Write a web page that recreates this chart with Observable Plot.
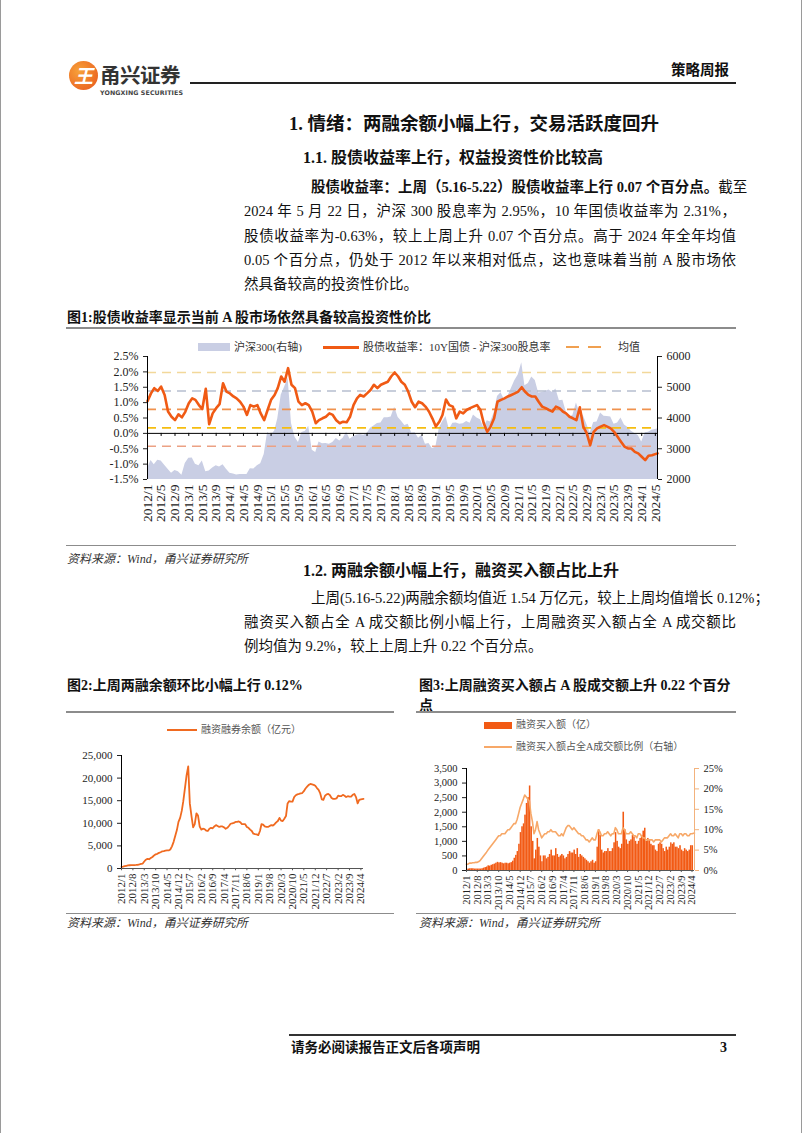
<!DOCTYPE html>
<html><head><meta charset="utf-8">
<script src="https://cdn.jsdelivr.net/npm/d3@7"></script>
<script src="https://cdn.jsdelivr.net/npm/@observablehq/plot@0.6"></script>
<style>
body{margin:0;background:#fff;}
#page{position:relative;width:802px;height:1133px;overflow:hidden;box-sizing:border-box;border-left:1px solid #9a9a9a;border-right:1px solid #9a9a9a;
 font-family:"Liberation Serif","Noto Sans CJK SC",serif;color:#111;}
.t{position:absolute;white-space:nowrap;line-height:20px;}
.j{position:absolute;white-space:nowrap;line-height:20px;text-align:justify;text-align-last:justify;font-size:14.5px;}
.rule{position:absolute;}
.leg{position:absolute;white-space:nowrap;line-height:14px;color:#333;}
.chart{position:absolute;}
</style>
</head><body>
<div id="page">
  <!-- header -->
  <div class="t" style="left:68px;top:61px;width:29px;height:29px;border-radius:50%;background:radial-gradient(circle at 35% 35%,#f7a23a,#e8541a);"></div>
  <div class="t" style="left:68px;top:65px;width:29px;text-align:center;font:bold italic 19px 'Noto Sans CJK SC';color:#fff;line-height:20px;">王</div>
  <div class="t" style="left:99px;top:62px;font:bold 20.5px 'Noto Sans CJK SC';color:#333;line-height:24px;letter-spacing:-0.5px;">甬兴证券</div>
  <div class="t" style="left:99px;top:89px;font:bold 6.3px 'DejaVu Sans';color:#444;line-height:8px;letter-spacing:0.1px;">YONGXING SECURITIES</div>
  <div class="rule" style="left:189px;top:82px;width:546px;height:2px;background:#222;"></div>
  <div class="t" style="left:670px;top:60px;font-weight:bold;font-size:14.5px;">策略周报</div>

  <!-- headings -->
  <div class="t" style="left:288px;top:113px;font-weight:bold;font-size:18.5px;line-height:22px;">1. 情绪：两融余额小幅上行，交易活跃度回升</div>
  <div class="t" style="left:302px;top:148px;font-weight:bold;font-size:16px;">1.1. 股债收益率上行，权益投资性价比较高</div>

  <div class="j" style="left:310px;top:177px;width:425px;"><b>股债收益率：上周（5.16-5.22）股债收益率上行 0.07 个百分点。</b>截至</div>
  <div class="j" style="left:243px;top:201px;width:492px;">2024 年 5 月 22 日，沪深 300 股息率为 2.95%，10 年国债收益率为 2.31%，</div>
  <div class="j" style="left:243px;top:226px;width:492px;">股债收益率为-0.63%，较上上周上升 0.07 个百分点。高于 2024 年全年均值</div>
  <div class="j" style="left:243px;top:250px;width:492px;">0.05 个百分点，仍处于 2012 年以来相对低点，这也意味着当前 A 股市场依</div>
  <div class="t" style="left:243px;top:274px;font-size:14.5px;">然具备较高的投资性价比。</div>

  <!-- figure 1 -->
  <div class="t" style="left:66px;top:308px;font-weight:bold;font-size:14px;">图1:股债收益率显示当前 A 股市场依然具备较高投资性价比</div>
  <div class="rule" style="left:65px;top:327px;width:670px;height:2px;background:#8c8c8c;"></div>
  <div class="leg" style="left:197px;top:343px;width:32px;height:8px;background:#c9cee4;"></div>
  <div class="leg" style="left:233px;top:340px;font-size:11px;">沪深300(右轴)</div>
  <div class="leg" style="left:322px;top:346px;width:36px;height:3px;background:#f05a14;"></div>
  <div class="leg" style="left:362px;top:340px;font-size:11px;">股债收益率：10Y国债 - 沪深300股息率</div>
  <div class="leg" style="left:565px;top:346px;width:38px;height:2px;background:repeating-linear-gradient(90deg,#f0a050 0 13px,transparent 13px 22px);"></div>
  <div class="leg" style="left:617px;top:340px;font-size:11px;">均值</div>
  <div class="chart" id="c1" style="left:60px;top:350px;"></div>
  <div class="rule" style="left:65px;top:545px;width:670px;height:1px;background:#8c8c8c;"></div>
  <div class="t" style="left:66px;top:549px;font-style:italic;font-size:12px;color:#333;">资料来源：Wind，甬兴证券研究所</div>

  <!-- section 1.2 -->
  <div class="t" style="left:302px;top:561px;font-weight:bold;font-size:16px;">1.2. 两融余额小幅上行，融资买入额占比上升</div>
  <div class="j" style="left:310px;top:588px;width:425px;">上周(5.16-5.22)两融余额均值近 1.54 万亿元，较上上周均值增长 0.12%；</div>
  <div class="j" style="left:243px;top:612px;width:492px;">融资买入额占全 A 成交额比例小幅上行，上周融资买入额占全 A 成交额比</div>
  <div class="t" style="left:243px;top:636px;font-size:14.5px;">例均值为 9.2%，较上上周上升 0.22 个百分点。</div>

  <!-- figure 2 -->
  <div class="t" style="left:66px;top:676px;font-weight:bold;font-size:14px;">图2:上周两融余额环比小幅上行 0.12%</div>
  <div class="rule" style="left:65px;top:711px;width:328px;height:2px;background:#8c8c8c;"></div>
  <div class="leg" style="left:166px;top:729px;width:30px;height:2px;background:#f06a20;"></div>
  <div class="leg" style="left:200px;top:723px;font-size:10px;color:#555;">融资融券余额（亿元）</div>
  <div class="chart" id="c2" style="left:60px;top:745px;"></div>
  <div class="rule" style="left:65px;top:913px;width:328px;height:1px;background:#8c8c8c;"></div>
  <div class="t" style="left:66px;top:913px;font-style:italic;font-size:12px;color:#333;">资料来源：Wind，甬兴证券研究所</div>

  <!-- figure 3 -->
  <div class="t" style="left:418px;top:676px;font-weight:bold;font-size:14px;">图3:上周融资买入额占 A 股成交额上升 0.22 个百分</div>
  <div class="t" style="left:418px;top:696px;font-weight:bold;font-size:14px;">点</div>
  <div class="rule" style="left:415px;top:711px;width:320px;height:2px;background:#8c8c8c;"></div>
  <div class="leg" style="left:483px;top:722px;width:28px;height:7px;background:#f25a14;"></div>
  <div class="leg" style="left:515px;top:718px;font-size:10px;color:#555;">融资买入额（亿）</div>
  <div class="leg" style="left:483px;top:746px;width:28px;height:2px;background:#f7a868;"></div>
  <div class="leg" style="left:515px;top:740px;font-size:10px;color:#555;">融资买入额占全A成交额比例（右轴）</div>
  <div class="chart" id="c3" style="left:410px;top:758px;"></div>
  <div class="rule" style="left:415px;top:913px;width:320px;height:1px;background:#8c8c8c;"></div>
  <div class="t" style="left:418px;top:913px;font-style:italic;font-size:12px;color:#333;">资料来源：Wind，甬兴证券研究所</div>

  <!-- footer -->
  <div class="rule" style="left:288px;top:1034px;width:447px;height:1.5px;background:#333;"></div>
  <div class="t" style="left:290px;top:1038px;font-weight:bold;font-size:13.5px;">请务必阅读报告正文后各项声明</div>
  <div class="t" style="left:719px;top:1038px;font-weight:bold;font-size:14px;">3</div>
</div>

<script>
// ---------------- DATA ----------------
// Figure 1: monthly, 2012/1 .. 2024/5
const spreadValues = [
 1.05,1.30,1.47,1.38,1.52,1.25,0.71,0.54,0.43,0.62,0.52,0.70,
 0.98,1.14,1.09,0.92,0.79,1.45,0.30,0.65,0.82,0.95,1.63,1.36,
 1.30,1.20,1.14,1.03,0.87,0.60,0.92,0.87,0.92,0.65,0.43,0.76,
 1.09,1.25,1.47,1.85,1.68,2.12,1.58,1.47,1.03,0.92,0.98,0.92,
 0.71,0.33,0.43,0.49,0.54,0.65,0.60,0.43,0.33,0.38,0.36,0.54,
 0.92,1.14,1.25,1.20,1.30,1.41,1.58,1.47,1.58,1.63,1.68,1.85,
 1.98,1.85,1.68,1.58,1.36,1.03,0.85,1.03,0.98,0.87,0.71,0.49,
 0.22,0.38,0.60,1.10,0.92,0.87,0.49,0.71,0.65,0.76,0.82,0.87,
 0.92,0.76,0.33,0.05,0.22,0.49,1.03,1.09,1.14,1.20,1.25,1.30,
 1.36,1.50,1.36,1.25,1.20,1.20,1.03,0.87,0.82,0.76,0.71,0.87,
 0.82,0.71,0.65,0.54,0.49,0.43,0.85,0.22,0.00,-0.38,0.05,0.16,
 0.22,0.27,0.22,0.16,0.05,-0.11,-0.27,-0.43,-0.49,-0.49,-0.60,-0.65,
 -0.76,-0.87,-0.73,-0.71,-0.65
];
const csi300Values = [
 2350,2620,2480,2630,2600,2460,2330,2200,2290,2250,2140,2520,
 2690,2700,2500,2450,2600,2250,2280,2370,2450,2410,2480,2330,
 2200,2180,2150,2160,2160,2165,2350,2340,2450,2510,2810,3530,
 3450,3570,3970,4750,5000,5300,3820,3370,3200,3530,3570,3730,
 2950,2880,3220,3160,3170,3150,3200,3330,3250,3340,3540,3310,
 3390,3450,3460,3440,3490,3670,3740,3820,3840,4010,4010,4030,
 4350,4020,3900,3760,3800,3510,3520,3340,3440,3150,3170,3010,
 3050,3670,3870,4050,3630,3830,3840,3800,3810,3890,3830,4100,
 4000,3940,3690,3910,3870,4160,4700,4820,4590,4700,4960,5210,
 5400,5800,5050,5120,5330,5220,4810,4830,4870,4910,4830,4940,
 4560,4580,4220,4020,4090,4490,4170,4080,3800,3510,3850,3870,
 4160,4060,4050,4030,3800,3840,4000,3770,3690,3570,3500,3430,
 3220,3520,3540,3600,3640
];
const meanLevels = [1.98, 1.38, 0.78, 0.18, -0.42];   // mean ± 1σ, ± 2σ
const leftTicks1 = [-1.5,-1.0,-0.5,0.0,0.5,1.0,1.5,2.0,2.5];
const rightTicks1 = [2000,3000,4000,5000,6000];
const xTicks1 = ["2012/1","2012/5","2012/9","2013/1","2013/5","2013/9","2014/1","2014/5","2014/9","2015/1","2015/5","2015/9",
 "2016/1","2016/5","2016/9","2017/1","2017/5","2017/9","2018/1","2018/5","2018/9","2019/1","2019/5","2019/9",
 "2020/1","2020/5","2020/9","2021/1","2021/5","2021/9","2022/1","2022/5","2022/9","2023/1","2023/5","2023/9","2024/1","2024/5"];

// Figure 2: margin balance (亿元), monthly 2012/1 .. 2024/5
const marginBalance = [
 380,420,520,600,680,720,730,740,760,790,830,900,
 1000,1100,1550,1950,2150,2050,2300,2550,2900,3150,3250,3450,
 3600,3800,3850,3950,4000,4000,4200,4900,5900,7200,8500,10300,
 11200,12800,14900,17800,20600,22600,14400,11600,9100,9800,12200,11700,
 9300,8600,8800,8700,8400,8300,8800,9000,8900,9300,9600,9400,
 9200,9300,9300,9100,8800,9000,9400,9900,10000,10100,10300,10300,
 10400,10200,9800,9800,9800,9200,9000,8600,8300,7700,7600,7560,
 7400,8300,9800,9700,9300,9200,9200,9400,9600,9500,9800,10200,
 10500,11200,10600,10500,11000,11600,14400,14900,14800,14800,15800,16200,
 16400,16500,16600,16700,17100,17700,18100,18500,18700,18600,18500,18300,
 17800,17400,16700,15300,15200,16100,16400,16500,16200,15600,15400,15400,
 15500,16100,16000,16000,16300,16100,15800,16000,15900,15900,16300,16500,
 15800,14400,15200,15300,15400
];
const leftTicks2 = [0,5000,10000,15000,20000,25000];
const xTicks23 = ["2012/1","2012/8","2013/3","2013/10","2014/5","2014/12","2015/7","2016/2","2016/9","2017/4","2017/11",
 "2018/6","2019/1","2019/8","2020/3","2020/10","2021/5","2021/12","2022/7","2023/2","2023/9","2024/4"];

// Figure 3: financing buy amount (亿) and share of A-share turnover (%), monthly 2012/1 .. 2024/5
const financingBuy = [
 40,50,60,60,60,50,50,50,50,50,60,80,
 100,120,160,150,180,200,220,250,280,260,270,250,
 230,250,250,230,250,270,320,420,520,650,900,1300,
 1500,1600,1900,2300,2500,2900,1500,1000,400,700,1100,800,
 500,300,500,500,400,450,550,700,500,500,750,550,
 450,500,550,500,400,450,550,650,600,600,700,550,
 750,450,550,500,450,400,350,300,250,300,350,250,
 300,800,1400,1200,700,600,650,650,750,650,650,750,
 950,1300,1000,800,750,900,2000,1400,1050,900,1000,1050,
 1200,1150,1000,900,1000,1100,1200,1350,1450,1000,1100,1050,
 900,850,850,700,650,900,950,900,750,650,800,700,
 800,950,900,950,800,800,750,850,700,650,750,700,
 650,700,850,850,1000
];
const financingShare = [
 1.5,1.6,1.8,1.8,1.9,1.9,2.0,2.0,2.2,2.5,3.0,3.5,
 4.0,4.5,5.0,5.5,6.0,6.5,7.0,7.5,8.0,8.5,8.5,9.0,
 9.0,9.0,9.5,10.0,10.0,10.5,11.0,11.5,11.5,12.5,14.0,15.5,
 16.5,17.5,18.5,18.0,17.5,17.0,14.0,12.0,9.0,10.0,12.0,10.0,
 9.0,8.0,8.5,9.0,9.0,9.5,9.5,10.0,9.5,9.5,9.5,9.0,
 8.5,8.5,9.0,8.5,9.5,10.5,11.0,11.0,10.5,10.0,10.5,10.0,
 9.5,9.0,9.0,8.5,8.5,8.0,7.5,7.5,7.0,7.5,8.0,7.5,
 7.5,9.0,10.0,9.5,8.5,8.5,9.0,9.0,9.5,9.0,8.5,9.0,
 9.0,10.5,10.0,9.0,9.0,9.0,10.5,10.0,9.0,9.0,9.0,9.5,
 9.0,8.5,8.5,8.0,9.0,9.0,8.5,8.0,8.0,7.5,7.5,7.5,
 7.5,7.5,7.0,7.5,7.5,7.5,7.5,7.0,7.5,8.0,8.0,8.0,
 8.5,9.0,8.5,8.5,9.0,8.5,8.0,9.0,9.0,8.5,9.0,9.0,
 8.5,8.5,9.0,9.0,9.2
];
const leftTicks3 = [0,500,1000,1500,2000,2500,3000,3500];
const rightTicks3 = [0,5,10,15,20,25];

// ---------------- STYLES ----------------
const FONT = '"Liberation Serif","Noto Sans CJK SC",serif';
const meanColors = ["#f2d89a", "#b7bfd0", "#f0924e", "#f5bd10", "#eca184"];
const START = new Date(Date.UTC(2012, 0, 1));
const END = new Date(Date.UTC(2024, 4, 20));
const parseYM = s => { const [y, m] = s.split("/"); return new Date(Date.UTC(+y, +m - 1, 1)); };
const fmtYM = d => `${d.getUTCFullYear()}/${d.getUTCMonth() + 1}`;
const monthDate = (i, n) => i === n - 1 ? END : d3.utcMonth.offset(START, i);

// ---------------- FIGURE 1 ----------------
const rows1 = spreadValues.map((v, i) => ({date: monthDate(i, spreadValues.length), spread: v, csi: csi300Values[i]}));
const csiToY = v => v / 1000 - 3.5;  // right axis 2000..6000 onto left -1.5..2.5
const tickDates1 = xTicks1.map(parseYM);

const c1 = Plot.plot({
  width: 680, height: 190, marginTop: 6, marginBottom: 61, marginLeft: 86, marginRight: 84,
  style: {fontFamily: FONT, fontSize: "12px", color: "#222", background: "transparent"},
  x: {type: "utc", domain: [START, END]},
  y: {domain: [-1.5, 2.5]},
  marks: [
    Plot.areaY(rows1, {x: "date", y1: -1.5, y2: d => csiToY(d.csi), fill: "#c9cee4"}),
    ...meanLevels.map((v, i) => Plot.ruleY([v], {stroke: meanColors[i], strokeWidth: 1.6, strokeDasharray: "9,6"})),
    Plot.ruleY([0], {stroke: "#000", strokeWidth: 1}),
    Plot.ruleX(tickDates1, {x: d => d, y1: 0, y2: -0.1, stroke: "#000"}),
    Plot.lineY(rows1, {x: "date", y: "spread", stroke: "#f05a14", strokeWidth: 2.6}),
    Plot.ruleX([START], {stroke: "#000"}),
    Plot.ruleX([END], {stroke: "#000"}),
    Plot.axisY({anchor: "left", ticks: leftTicks1, tickFormat: d => d.toFixed(1) + "%", tickSize: 4, label: null}),
    Plot.axisY({anchor: "right", ticks: rightTicks1.map(csiToY), tickFormat: d => String(Math.round((d + 3.5) * 1000)), tickSize: 4, label: null}),
    Plot.axisX({ticks: tickDates1, tickFormat: fmtYM, tickRotate: -90, tickSize: 0, tickPadding: 5, fontSize: 13.5, label: null})
  ]
});
document.getElementById("c1").append(c1);

// ---------------- FIGURE 2 ----------------
const rows2 = marginBalance.map((v, i) => ({date: monthDate(i, marginBalance.length), v}));
const tickDates23 = xTicks23.map(parseYM);
const c2 = Plot.plot({
  width: 320, height: 168, marginTop: 10, marginBottom: 45, marginLeft: 60, marginRight: 18,
  style: {fontFamily: FONT, fontSize: "11px", color: "#222", background: "transparent"},
  x: {type: "utc", domain: [START, END]},
  y: {domain: [0, 25000]},
  marks: [
    Plot.ruleY([0], {stroke: "#555"}),
    Plot.ruleX(tickDates23, {x: d => d, y1: 0, y2: -500, stroke: "#555"}),
    Plot.lineY(rows2, {x: "date", y: "v", stroke: "#f06a20", strokeWidth: 1.8}),
    Plot.ruleX([START], {stroke: "#000"}),
    Plot.axisY({anchor: "left", ticks: leftTicks2, tickFormat: d3.format(","), tickSize: 4, label: null}),
    Plot.axisX({ticks: tickDates23, tickFormat: fmtYM, tickRotate: -90, tickSize: 0, tickPadding: 5, label: null})
  ]
});
document.getElementById("c2").append(c2);

// ---------------- FIGURE 3 ----------------
const shareToY = p => p * 140;  // right axis 0..25% onto left 0..3500
const rows3 = financingBuy.map((v, i) => ({
  date: monthDate(i, financingBuy.length),
  next: i === financingBuy.length - 1 ? END : d3.utcMonth.offset(START, i + 1),
  buy: v, share: financingShare[i]
}));
const c3 = Plot.plot({
  width: 320, height: 155, marginTop: 10, marginBottom: 43, marginLeft: 55, marginRight: 37,
  style: {fontFamily: FONT, fontSize: "10.5px", color: "#222", background: "transparent"},
  x: {type: "utc", domain: [START, END]},
  y: {domain: [0, 3500]},
  marks: [
    Plot.rectY(rows3, {x1: "date", x2: "next", y: "buy", fill: "#f25a14"}),
    Plot.lineY(rows3, {x: "date", y: d => shareToY(d.share), stroke: "#f7a868", strokeWidth: 1.6}),
    Plot.ruleY([0], {stroke: "#555"}),
    Plot.ruleX(tickDates23, {x: d => d, y1: 0, y2: -70, stroke: "#555"}),
    Plot.ruleX([START], {stroke: "#000"}),
    Plot.ruleX([END], {stroke: "#f3b27c"}),
    Plot.axisY({anchor: "left", ticks: leftTicks3, tickFormat: d3.format(","), tickSize: 4, label: null}),
    Plot.axisY({anchor: "right", ticks: rightTicks3.map(shareToY), tickFormat: d => Math.round(d / 140) + "%", tickSize: 4, stroke: "#f3b27c", label: null}),
    Plot.axisX({ticks: tickDates23, tickFormat: fmtYM, tickRotate: -90, tickSize: 0, tickPadding: 5, label: null})
  ]
});
document.getElementById("c3").append(c3);
</script>
</body></html>
